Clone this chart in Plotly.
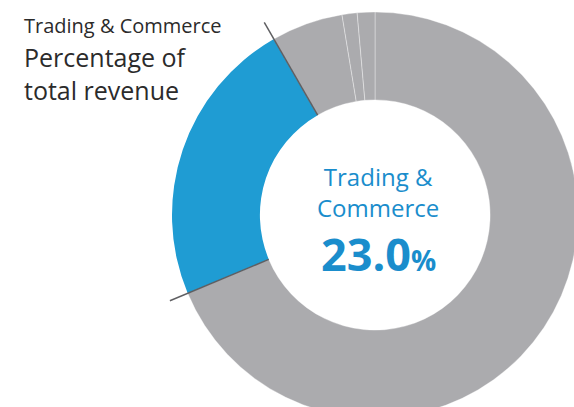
import numpy as np
import plotly.graph_objects as go

# ---- data ----
segments = ["Other A", "Trading & Commerce", "Other B", "Other C", "Other D"]
shares = [68.7, 23.0, 5.7, 1.2, 1.4]
seg_colors = ["#ababae", "#1f9cd3", "#ababae", "#ababae", "#ababae"]
highlight = "Trading & Commerce"
title_small = "Trading & Commerce"
title_big = ["Percentage of", "total revenue"]
center_label = ["Trading &", "Commerce"]
center_value = "23.0"

# ---- geometry (pixels) ----
W, H = 580, 420
cx, cy, R = 375, 215, 203
hole = 0.567

fig = go.Figure()
fig.add_trace(go.Pie(
    labels=segments, values=shares, sort=False, direction="clockwise", rotation=0,
    hole=hole, textinfo="none", hoverinfo="label+percent",
    marker=dict(colors=seg_colors,
                line=dict(color=["rgba(255,255,255,0.45)", "rgba(0,0,0,0)",
                                 "rgba(255,255,255,0.45)", "rgba(255,255,255,0.45)",
                                 "rgba(255,255,255,0.45)"], width=0.8)),
    domain=dict(x=[(cx - R) / W, (cx + R) / W], y=[1 - (cy + R) / H, 1 - (cy - R) / H]),
    showlegend=False,
))

# leader lines along the highlighted slice borders (angles from the data)
tot = sum(shares)
idx = segments.index(highlight)
start = sum(shares[:idx]) / tot
end = start + shares[idx] / tot
shapes = []
for frac in (start, end):
    a = 2 * np.pi * frac  # clockwise from 12 o'clock
    r0, r1 = R * hole, R * 1.095
    x0, y0 = cx + r0 * np.sin(a), cy - r0 * np.cos(a)
    x1, y1 = cx + r1 * np.sin(a), cy - r1 * np.cos(a)
    shapes.append(dict(type="line", xref="paper", yref="paper",
                       x0=x0 / W, y0=1 - y0 / H, x1=x1 / W, y1=1 - y1 / H,
                       line=dict(color="#5f5f62", width=1.5)))

font = "Open Sans, Noto Sans, sans-serif"
ann = [
    dict(text=title_small, x=22 / W, y=1 - 10 / H, xanchor="left", yanchor="top",
         font=dict(size=20, color="#2b2b2b", family=font)),
    dict(text=title_big[0], x=22 / W, y=1 - 38 / H, xanchor="left", yanchor="top",
         font=dict(size=25, color="#2b2b2b", family=font)),
    dict(text=title_big[1], x=22 / W, y=1 - 71 / H, xanchor="left", yanchor="top",
         font=dict(size=25, color="#2b2b2b", family=font)),
    dict(text=center_label[0] + "<br>" + center_label[1], x=378 / W, y=1 - 192 / H,
         xanchor="center", yanchor="middle", borderpad=0,
         font=dict(size=24, color="#1a8dcc", family=font)),
    dict(text="<b>" + center_value + "</b><b><span style='font-size:28px'>%</span></b>",
         x=378 / W, y=1 - 253 / H, xanchor="center", yanchor="middle", borderpad=0,
         font=dict(size=45, color="#1a8dcc", family=font)),
]
for a in ann:
    a["showarrow"] = False
    a["xref"] = "paper"
    a["yref"] = "paper"

fig.update_layout(width=W, height=H, margin=dict(l=0, r=0, t=0, b=0),
                  paper_bgcolor="white", plot_bgcolor="white",
                  annotations=ann, shapes=shapes)

fig.write_html("out.html", config={"displayModeBar": False},
               post_script="document.body.style.margin='0';document.body.style.overflow='hidden';document.documentElement.style.overflow='hidden';")
